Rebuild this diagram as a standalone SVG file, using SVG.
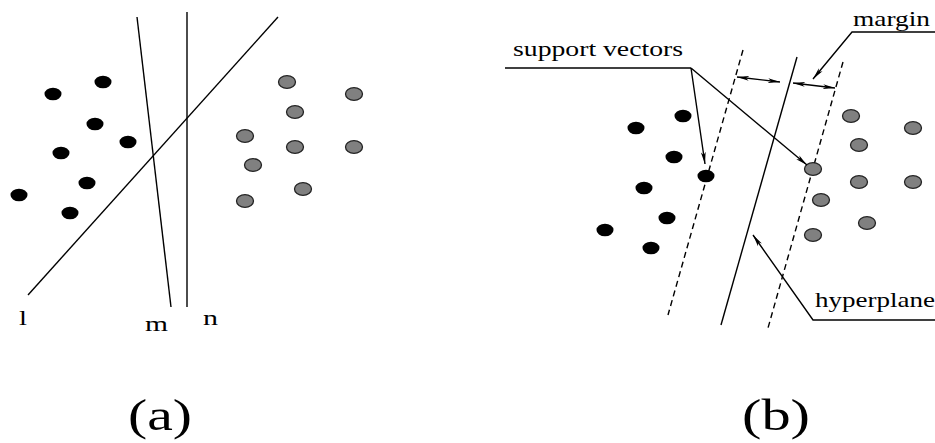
<svg xmlns="http://www.w3.org/2000/svg" width="935" height="443" viewBox="0 0 935 443">
<style>
.bg{fill:#fff}
.ln{stroke:#000;stroke-width:1.4;fill:none}
.dash{stroke:#000;stroke-width:1.4;fill:none;stroke-dasharray:6,4}
.b{fill:#000}
.g{fill:#808080;stroke:#222;stroke-width:1.3}
.t{font-family:'Liberation Serif','Times New Roman',serif;font-size:22px;fill:#000}
.cap{font-family:'Liberation Serif','Times New Roman',serif;font-size:45px;fill:#000}
</style>
<defs>
<marker id="ah" viewBox="0 0 12 6" refX="12" refY="3" markerWidth="12" markerHeight="6" markerUnits="userSpaceOnUse" orient="auto-start-reverse">
<path d="M0,0.6 L12,3 L0,5.4 L3,3 Z" fill="#000"/>
</marker>
<ellipse id="d" rx="8.5" ry="6.3"/>
</defs>
<rect class="bg" width="935" height="443"/>
<g id="panel-a">
<g id="lines-a">
<line class="ln" x1="28" y1="295" x2="278" y2="17"/>
<line class="ln" x1="137" y1="17" x2="171" y2="307"/>
<line class="ln" x1="187" y1="12" x2="187" y2="307"/>
</g>
<g id="black-a">
<use href="#d" class="b" x="53" y="94"/>
<use href="#d" class="b" x="103" y="82"/>
<use href="#d" class="b" x="95" y="124"/>
<use href="#d" class="b" x="128" y="142"/>
<use href="#d" class="b" x="61" y="153"/>
<use href="#d" class="b" x="87" y="183"/>
<use href="#d" class="b" x="19" y="195"/>
<use href="#d" class="b" x="70" y="213"/>
</g>
<g id="gray-a">
<use href="#d" class="g" x="287" y="82"/>
<use href="#d" class="g" x="354" y="94"/>
<use href="#d" class="g" x="295" y="112"/>
<use href="#d" class="g" x="245" y="136"/>
<use href="#d" class="g" x="295" y="147"/>
<use href="#d" class="g" x="354" y="147"/>
<use href="#d" class="g" x="253" y="165"/>
<use href="#d" class="g" x="303" y="189"/>
<use href="#d" class="g" x="245" y="201"/>
</g>
<text class="t" x="19" y="325" textLength="8" lengthAdjust="spacingAndGlyphs">l</text>
<text class="t" x="145" y="331" textLength="23" lengthAdjust="spacingAndGlyphs">m</text>
<text class="t" x="203" y="325" textLength="15" lengthAdjust="spacingAndGlyphs">n</text>
<text class="cap" x="128" y="430" textLength="64" lengthAdjust="spacingAndGlyphs">(a)</text>
</g>
<g id="panel-b">
<g id="lines-b">
<line class="ln" x1="797" y1="57" x2="721" y2="325"/>
<line class="dash" x1="743" y1="50" x2="668" y2="315"/>
<line class="dash" x1="843" y1="62" x2="768" y2="328"/>
</g>
<g id="black-b">
<use href="#d" class="b" x="683" y="116"/>
<use href="#d" class="b" x="636" y="128"/>
<use href="#d" class="b" x="674" y="157"/>
<use href="#d" class="b" x="706" y="176"/>
<use href="#d" class="b" x="644" y="188"/>
<use href="#d" class="b" x="667" y="218"/>
<use href="#d" class="b" x="605" y="230"/>
<use href="#d" class="b" x="651" y="248"/>
</g>
<g id="gray-b">
<use href="#d" class="g" x="851" y="116"/>
<use href="#d" class="g" x="913" y="128"/>
<use href="#d" class="g" x="859" y="145"/>
<use href="#d" class="g" x="813" y="169"/>
<use href="#d" class="g" x="859" y="182"/>
<use href="#d" class="g" x="913" y="182"/>
<use href="#d" class="g" x="821" y="200"/>
<use href="#d" class="g" x="867" y="223"/>
<use href="#d" class="g" x="813" y="235"/>
</g>
<g id="connectors">
<polyline class="ln" points="505,68 691,68"/>
<line class="ln" x1="691" y1="68" x2="705" y2="164" marker-end="url(#ah)"/>
<line class="ln" x1="691" y1="68" x2="807" y2="165" marker-end="url(#ah)"/>
<line class="ln" x1="737" y1="77" x2="780" y2="82" marker-start="url(#ah)" marker-end="url(#ah)"/>
<line class="ln" x1="793" y1="83" x2="835" y2="88" marker-start="url(#ah)" marker-end="url(#ah)"/>
<polyline class="ln" points="935,32 852,32 813,79" marker-end="url(#ah)"/>
<polyline class="ln" points="935,320 813,320 753,235" marker-end="url(#ah)"/>
</g>
<text class="t" x="513" y="56" textLength="170" lengthAdjust="spacingAndGlyphs">support vectors</text>
<text class="t" x="853" y="26" textLength="77" lengthAdjust="spacingAndGlyphs">margin</text>
<text class="t" x="815" y="307" textLength="120" lengthAdjust="spacingAndGlyphs">hyperplane</text>
<text class="cap" x="742" y="430" textLength="68" lengthAdjust="spacingAndGlyphs">(b)</text>
</g>
</svg>
